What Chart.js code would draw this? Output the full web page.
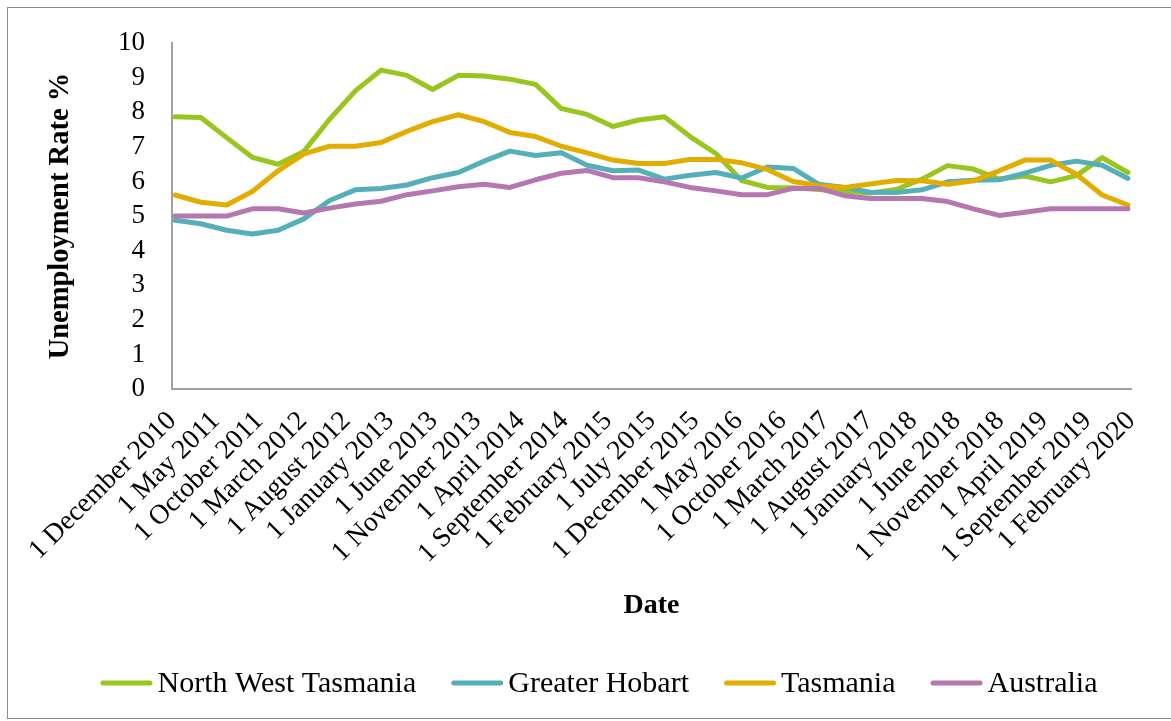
<!DOCTYPE html>
<html>
<head>
<meta charset="utf-8">
<title>Unemployment Rate</title>
<script src="https://cdn.jsdelivr.net/npm/chart.js@4.4.0/dist/chart.umd.min.js"></script>
<style>
  html, body { margin: 0; padding: 0; background: #ffffff; }
  #wrap { position: relative; width: 1171px; height: 721px; overflow: hidden; }
  #frame { position: absolute; left: 7px; top: 7px; width: 1170px; height: 712px;
           border: 1.5px solid #8c8c8c; box-sizing: border-box; }
  canvas { position: absolute; left: 0; top: 0; }
</style>
</head>
<body>
<div id="wrap">
  <div id="frame"></div>
  <canvas id="chart" width="1171" height="721"></canvas>
</div>
<script>
// Axis date labels (every fifth month)
const tickLabels = [
  '1 December 2010', '1 May 2011', '1 October 2011', '1 March 2012', '1 August 2012',
  '1 January 2013', '1 June 2013', '1 November 2013', '1 April 2014', '1 September 2014',
  '1 February 2015', '1 July 2015', '1 December 2015', '1 May 2016', '1 October 2016',
  '1 March 2017', '1 August 2017', '1 January 2018', '1 June 2018', '1 November 2018',
  '1 April 2019', '1 September 2019', '1 February 2020'
];

// Quarterly unemployment rate (%)
const northWestTasmania = [7.87, 7.85, 7.27, 6.70, 6.50, 6.87, 7.80, 8.62, 9.22, 9.07,
  8.66, 9.07, 9.05, 8.96, 8.81, 8.11, 7.94, 7.59, 7.78, 7.87, 7.30, 6.81, 6.03, 5.83,
  5.82, 5.77, 5.72, 5.67, 5.77, 6.07, 6.46, 6.36, 6.07, 6.16, 5.99, 6.17, 6.69, 6.26];
const greaterHobart = [4.88, 4.78, 4.59, 4.48, 4.59, 4.92, 5.45, 5.76, 5.80, 5.90,
  6.11, 6.26, 6.59, 6.88, 6.75, 6.83, 6.47, 6.31, 6.33, 6.07, 6.18, 6.26, 6.10, 6.42,
  6.38, 5.92, 5.83, 5.69, 5.68, 5.76, 5.99, 6.04, 6.05, 6.24, 6.47, 6.59, 6.47, 6.09];
const tasmania = [5.61, 5.40, 5.32, 5.71, 6.31, 6.80, 7.02, 7.02, 7.13, 7.45,
  7.73, 7.93, 7.73, 7.42, 7.30, 7.02, 6.83, 6.62, 6.52, 6.52, 6.64, 6.64, 6.54, 6.35,
  6.00, 5.88, 5.83, 5.93, 6.03, 6.02, 5.92, 6.02, 6.31, 6.62, 6.62, 6.21, 5.61, 5.32];
const australia = [5.00, 5.00, 5.00, 5.21, 5.21, 5.09, 5.23, 5.35, 5.43, 5.62,
  5.73, 5.85, 5.92, 5.83, 6.05, 6.24, 6.32, 6.11, 6.11, 5.99, 5.83, 5.73, 5.62, 5.62,
  5.80, 5.80, 5.59, 5.51, 5.51, 5.51, 5.42, 5.21, 5.02, 5.11, 5.21, 5.21, 5.21, 5.21];

const seriesNames = ['North West Tasmania', 'Greater Hobart', 'Tasmania', 'Australia'];
const seriesValues = [northWestTasmania, greaterHobart, tasmania, australia];
const seriesColors = ['#97c61f', '#55afb9', '#e2ad00', '#b577b1'];

const FONT = "'Liberation Serif', 'Times New Roman', serif";
const X_MIN = -0.12, X_MAX = 37.12;

const datasets = seriesValues.map((vals, s) => ({
  label: seriesNames[s],
  data: vals.map((v, i) => ({ x: i, y: v })),
  borderColor: seriesColors[s],
  backgroundColor: seriesColors[s],
  borderWidth: 5,
  borderJoinStyle: 'round',
  borderCapStyle: 'round',
  pointRadius: 0,
  tension: 0,
  clip: false,
  order: seriesValues.length - s
}));

// Legend drawn under the axes: rounded line swatch followed by the series name
const lineLegend = {
  id: 'lineLegend',
  afterDraw(chart) {
    const ctx = chart.ctx;
    const sw = 52, gap = 5, spacing = 35, cy = 683;
    ctx.save();
    ctx.font = '30px ' + FONT;
    const widths = seriesNames.map(n => ctx.measureText(n).width);
    const total = widths.reduce((a, w) => a + sw + gap + w, 0) + spacing * (seriesNames.length - 1);
    let x = 599 - total / 2;
    seriesNames.forEach((name, i) => {
      ctx.strokeStyle = seriesColors[i];
      ctx.lineWidth = 5;
      ctx.lineCap = 'round';
      ctx.beginPath();
      ctx.moveTo(x + 2.5, cy);
      ctx.lineTo(x + sw - 2.5, cy);
      ctx.stroke();
      ctx.fillStyle = '#000';
      ctx.textBaseline = 'middle';
      ctx.textAlign = 'left';
      ctx.fillText(name, x + sw + gap, cy + 1);
      x += sw + gap + widths[i] + spacing;
    });
    ctx.restore();
  }
};

new Chart(document.getElementById('chart'), {
  type: 'line',
  data: { datasets },
  plugins: [lineLegend],
  options: {
    responsive: false,
    animation: false,
    events: [],
    layout: { padding: { left: 44, top: 38, right: 40, bottom: 80 } },
    plugins: { legend: { display: false }, tooltip: { enabled: false } },
    scales: {
      x: {
        type: 'linear',
        min: X_MIN,
        max: X_MAX,
        grid: { display: false, drawTicks: false },
        border: { display: true, color: '#a0a0a0', width: 2 },
        afterBuildTicks(scale) {
          const n = tickLabels.length - 1;
          scale.ticks = tickLabels.map((_, k) => ({ value: X_MIN + k * (X_MAX - X_MIN) / n }));
        },
        afterFit(scale) { scale.height = 252; },
        ticks: {
          autoSkip: false,
          minRotation: 45,
          maxRotation: 45,
          padding: 16,
          color: '#000',
          font: { family: FONT, size: 27.5 },
          callback: (value, index) => tickLabels[index]
        },
        title: {
          display: true,
          text: 'Date',
          color: '#000',
          font: { family: FONT, size: 28, weight: 'bold' },
          padding: { top: 0, bottom: 18 }
        }
      },
      y: {
        min: 0,
        max: 10,
        grid: { display: false, drawTicks: false },
        border: { display: true, color: '#a0a0a0', width: 2 },
        afterFit(scale) { scale.width = 128; },
        ticks: {
          stepSize: 1,
          autoSkip: false,
          padding: 27,
          color: '#000',
          font: { family: FONT, size: 27 }
        },
        title: {
          display: true,
          text: 'Unemployment Rate %',
          color: '#000',
          font: { family: FONT, size: 28.5, weight: 'bold' },
          padding: { top: 0, bottom: 0 }
        }
      }
    }
  }
});
</script>
</body>
</html>
